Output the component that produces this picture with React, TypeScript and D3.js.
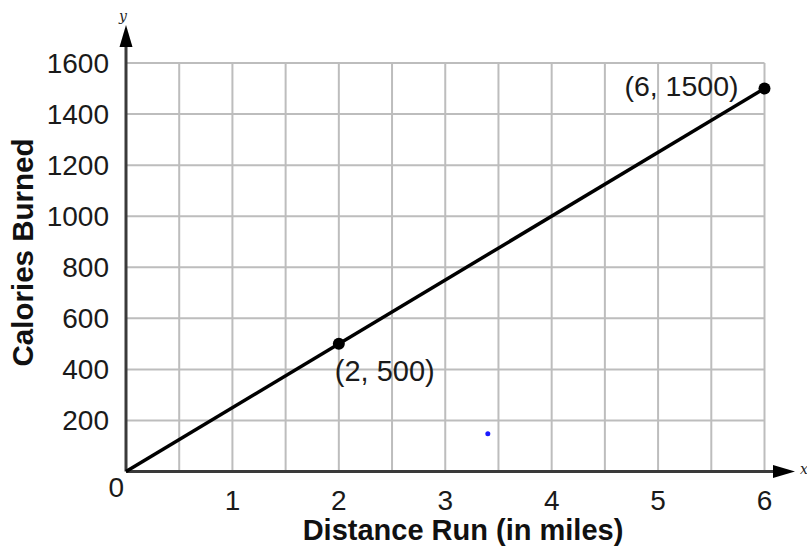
import React from "react";
import * as d3 from "d3";

const lineX = [0, 6];
const lineY = [0, 1500];
const pointX = [2, 6];
const pointY = [500, 1500];
const pointLabels = ["(2, 500)", "(6, 1500)"];
const xTicks = [1, 2, 3, 4, 5, 6];
const yTicks = [200, 400, 600, 800, 1000, 1200, 1400, 1600];
const xGrid = [0.5, 1, 1.5, 2, 2.5, 3, 3.5, 4, 4.5, 5, 5.5, 6];
const strayX = [3.4];
const strayY = [148];

const W = 807;
const H = 555;

export default function App() {
  const x = d3.scaleLinear().domain([0, 6]).range([126, 764.5]);
  const y = d3.scaleLinear().domain([0, 1600]).range([471.5, 63]);
  const line = d3
    .line<number>()
    .x((d) => x(lineX[d]))
    .y((d) => y(lineY[d]));
  const font = "'Liberation Sans', Arial, Helvetica, sans-serif";
  const x0 = x(0);
  const y0 = y(0);
  return (
    <svg
      width={W}
      height={H}
      style={{ position: "absolute", left: 0, top: 0, background: "#fff" }}
      fontFamily={font}
    >
      <rect x={0} y={0} width={W} height={H} fill="#fff" />
      {/* grid */}
      {xGrid.map((g) => (
        <line
          key={"gx" + g}
          x1={x(g)}
          x2={x(g)}
          y1={y(1600)}
          y2={y0}
          stroke="#bdbdbd"
          strokeWidth={2}
        />
      ))}
      {yTicks.map((g) => (
        <line
          key={"gy" + g}
          x1={x0}
          x2={x(6)}
          y1={y(g)}
          y2={y(g)}
          stroke="#bdbdbd"
          strokeWidth={2}
        />
      ))}
      {/* axes */}
      <line x1={x0} x2={x0} y1={y0} y2={45} stroke="#3a3a3a" strokeWidth={3} />
      <line x1={x0} x2={775} y1={y0} y2={y0} stroke="#3a3a3a" strokeWidth={3} />
      <path
        d={`M${x0},25 L${x0 - 6.5},47 L${x0 + 6.5},47 Z`}
        fill="#000"
      />
      <path
        d={`M795,${y0} L773,${y0 - 6.5} L773,${y0 + 6.5} Z`}
        fill="#000"
      />
      <text
        x={123}
        y={21}
        fontFamily="'DejaVu Serif', 'Liberation Serif', serif"
        fontStyle="italic"
        fontSize={14}
        textAnchor="middle"
        fill="#222"
      >
        y
      </text>
      <text
        x={800}
        y={474}
        fontFamily="'DejaVu Serif', 'Liberation Serif', serif"
        fontStyle="italic"
        fontSize={14}
        fill="#222"
      >
        x
      </text>
      {/* tick labels */}
      {xTicks.map((t) => (
        <text
          key={"xt" + t}
          x={x(t)}
          y={510}
          fontSize={28}
          textAnchor="middle"
          fill="#1a1a1a"
        >
          {t}
        </text>
      ))}
      <text x={124} y={497} fontSize={28} textAnchor="end" fill="#1a1a1a">
        0
      </text>
      {yTicks.map((t) => (
        <text
          key={"yt" + t}
          x={109}
          y={y(t) + 10}
          fontSize={28}
          textAnchor="end"
          fill="#1a1a1a"
        >
          {t}
        </text>
      ))}
      {/* data line */}
      <path
        d={line([0, 1]) || ""}
        fill="none"
        stroke="#000"
        strokeWidth={3.5}
      />
      {pointX.map((px, i) => (
        <circle key={"p" + i} cx={x(px)} cy={y(pointY[i])} r={6} fill="#000" />
      ))}
      <text
        x={x(pointX[0]) - 4}
        y={y(pointY[0]) + 37}
        fontSize={29}
        fill="#1a1a1a"
      >
        {pointLabels[0]}
      </text>
      <text
        x={x(pointX[1]) - 26}
        y={y(pointY[1]) + 7}
        fontSize={28.5}
        textAnchor="end"
        fill="#1a1a1a"
      >
        {pointLabels[1]}
      </text>
      {strayX.map((sx, i) => (
        <circle key={"s" + i} cx={x(sx)} cy={y(strayY[i])} r={2.5} fill="#1a1aff" />
      ))}
      {/* axis titles */}
      <text
        x={463}
        y={540}
        fontSize={29}
        fontWeight="bold"
        textAnchor="middle"
        fill="#111"
      >
        Distance Run (in miles)
      </text>
      <text
        transform={`translate(33,252.5) rotate(-90)`}
        fontSize={29.5}
        fontWeight="bold"
        textAnchor="middle"
        fill="#111"
      >
        Calories Burned
      </text>
    </svg>
  );
}
